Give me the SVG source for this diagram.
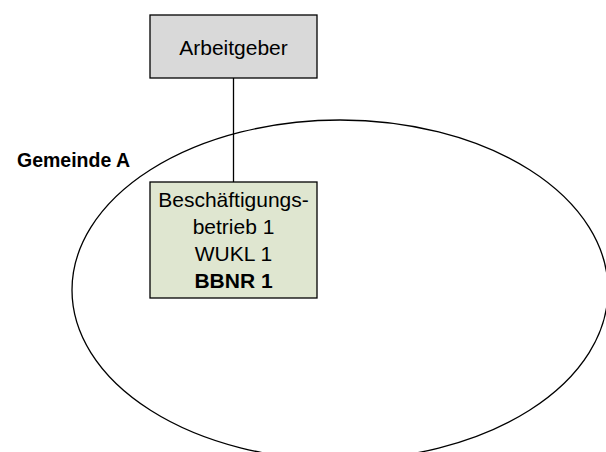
<svg xmlns="http://www.w3.org/2000/svg" width="606" height="452" viewBox="0 0 606 452">
<style>
text{font-family:"Liberation Sans",Arial,sans-serif;font-size:21px;fill:#000;text-anchor:middle}
.box{stroke:#000;stroke-width:1.3}
.b{font-weight:bold}
</style>
<rect width="606" height="452" fill="#fff"/>
<g id="gemeinde">
<ellipse cx="340" cy="290" rx="268" ry="170" fill="none" stroke="#000" stroke-width="1.3"/>
<text class="b" x="17" y="167" style="text-anchor:start;font-size:19.5px">Gemeinde A</text>
</g>
<g id="connectors">
<line x1="233.5" y1="78" x2="233.5" y2="182" stroke="#000" stroke-width="1.3"/>
</g>
<g id="arbeitgeber">
<rect class="box" x="150" y="15" width="167" height="63" fill="#d9d9d9"/>
<text x="233.5" y="55">Arbeitgeber</text>
</g>
<g id="betrieb">
<rect class="box" x="150" y="182" width="167" height="116" fill="#dfe6d0"/>
<text x="233.5" y="207">Beschäftigungs-</text>
<text x="233.5" y="234">betrieb 1</text>
<text x="233.5" y="261">WUKL 1</text>
<text class="b" x="233.5" y="288">BBNR 1</text>
</g>
</svg>
